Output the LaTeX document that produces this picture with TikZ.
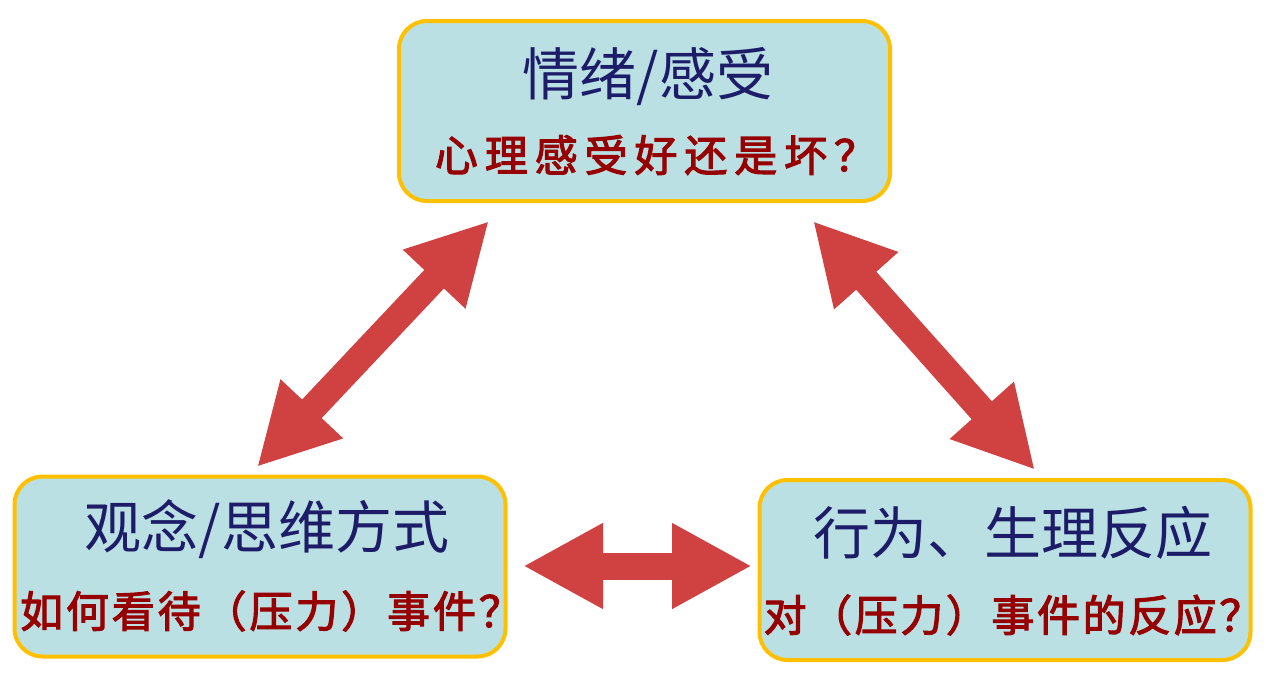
\documentclass[tikz,border=0pt]{standalone}
\usepackage{fontspec}
\newfontfamily\cjk{Noto Sans CJK SC}
\newfontfamily\cjksub{Noto Sans CJK SC}[FakeBold=2.5]
\usetikzlibrary{arrows.meta}
\definecolor{boxfill}{RGB}{187,224,228}
\definecolor{boxline}{RGB}{255,192,0}
\definecolor{ttlcol}{RGB}{28,28,104}
\definecolor{subcol}{RGB}{150,0,0}
\definecolor{arrcol}{RGB}{208,66,66}
\begin{document}
\begin{tikzpicture}[x=1pt,y=-1pt,
  box/.style={draw=boxline, fill=boxfill, line width=4pt, rounded corners=28pt, minimum width=491pt, minimum height=180pt, inner sep=0pt},
  ttl/.style={text=ttlcol, font=\cjk\fontsize{57}{60}\selectfont, inner sep=0pt},
  sub/.style={text=subcol, font=\cjksub\fontsize{43}{46}\selectfont, inner sep=0pt},
  dblarr/.style={draw=arrcol, line width=27pt, {Triangle[length=80pt,width=80pt]}-{Triangle[length=80pt,width=80pt]}}]
\useasboundingbox (0,0) rectangle (1267,680);
\node[box] (box0) at (644.5,111){};
\node[ttl] (ttl0) at (648,77){情绪/感受};
\node[sub] (sub0) at (656,155){\addfontfeature{LetterSpace=16}心理感受好还是坏？};
\node[box] (box1) at (260,566.5){};
\node[ttl] (ttl1) at (267,529){观念/思维方式};
\node[sub] (sub1) at (271,611){\addfontfeature{LetterSpace=6.7}如何看待（压力）事件？};
\node[box] (box2) at (1005,570){};
\node[ttl] (ttl2) at (1013,533){行为、生理反应};
\node[sub] (sub2) at (1013,615){\addfontfeature{LetterSpace=6}对（压力）事件的反应？};
\coordinate (a0) at (257,467);
\coordinate (a1) at (489,221);
\coordinate (a2) at (813,221);
\coordinate (a3) at (1035,470);
\coordinate (a4) at (523,566);
\coordinate (a5) at (752,566);
\draw[dblarr] (a0) -- (a1);
\draw[dblarr] (a2) -- (a3);
\draw[dblarr] (a4) -- (a5);
\end{tikzpicture}
\end{document}
